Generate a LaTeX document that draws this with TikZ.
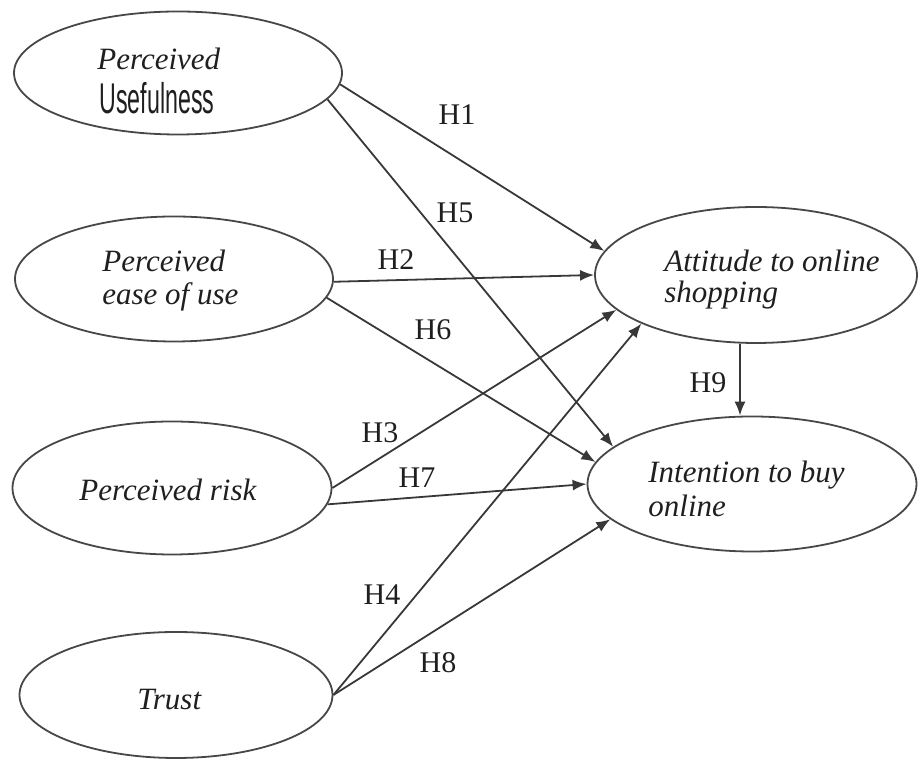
\documentclass[tikz,border=0pt]{standalone}
\usepackage{fontspec}
\setmainfont{Liberation Serif}
\setsansfont{Liberation Sans}
\usetikzlibrary{shapes.geometric,arrows.meta}
\begin{document}
\begin{tikzpicture}[x=0.5pt,y=0.5pt,
  construct/.style={draw=black!72, line width=0.9pt, ellipse, inner sep=0pt},
  lbl/.style={anchor=base west, inner sep=0pt, font=\fontsize{15.5}{17}\selectfont\itshape, text=black!88},
  narrowlbl/.style={anchor=base west, inner sep=0pt, font=\fontsize{21.5}{23}\sffamily, text=black!88},
  hyp/.style={inner sep=0pt, font=\fontsize{15}{17}\selectfont, text=black!88},
  arr/.style={draw=black!78, line width=0.9pt, -{Latex[length=7pt,width=5.5pt]}}]
\useasboundingbox (0,0) rectangle (918,760);
% constructs
\node[construct, minimum width=164pt, minimum height=61.5pt] (pu) at (178,687) {};
\node[construct, minimum width=159pt, minimum height=62.5pt] (peou) at (174,481) {};
\node[construct, minimum width=159.5pt, minimum height=66.5pt] (pr) at (172,272) {};
\node[construct, minimum width=156.5pt, minimum height=63pt] (trust) at (176,65) {};
\node[construct, minimum width=161pt, minimum height=68pt] (att) at (756,485) {};
\node[construct, minimum width=164.5pt, minimum height=67.5pt] (int) at (752,276) {};
% texts
\node[lbl] (pu1) at (97,690) {Perceived};
\node[narrowlbl] (pu2) at (99,646) {\scalebox{0.54}[1]{Usefulness}};
\node[lbl] (peou1) at (102,488) {Perceived};
\node[lbl] (peou2) at (102,455) {ease of use};
\node[lbl] (pr1) at (79,259) {Perceived risk};
\node[lbl] (trust1) at (137,50) {Trust};
\node[lbl] (att1) at (664,488) {Attitude to online};
\node[lbl] (att2) at (664,457) {shopping};
\node[lbl] (int1) at (648,277) {Intention to buy};
\node[lbl] (int2) at (648,243) {online};
% hypotheses
\draw[arr] (pu.-4) -- (att.171);
\draw[arr] (pu.-10) -- (int.165);
\draw[arr] (peou.-1.5) -- (att.180);
\draw[arr] (peou.-7) -- (int.172);
\draw[arr] (pr.0) -- (att.194);
\draw[arr] (pr.-6) -- (int.180);
\draw[arr] (trust.0) -- (att.203);
\draw[arr] (trust.0) -- (int.194);
\draw[arr] ([xshift=-8pt]att.south) -- ([xshift=-8pt]att.south |- int.north);
% labels
\node[hyp] (h1) at (457,645) {H1};
\node[hyp] (h5) at (455,547) {H5};
\node[hyp] (h2) at (396,500) {H2};
\node[hyp] (h6) at (433,430) {H6};
\node[hyp] (h3) at (380,327) {H3};
\node[hyp] (h7) at (417,282) {H7};
\node[hyp] (h4) at (382,165) {H4};
\node[hyp] (h8) at (438,97) {H8};
\node[hyp] (h9) at (708,377) {H9};
\end{tikzpicture}
\end{document}
